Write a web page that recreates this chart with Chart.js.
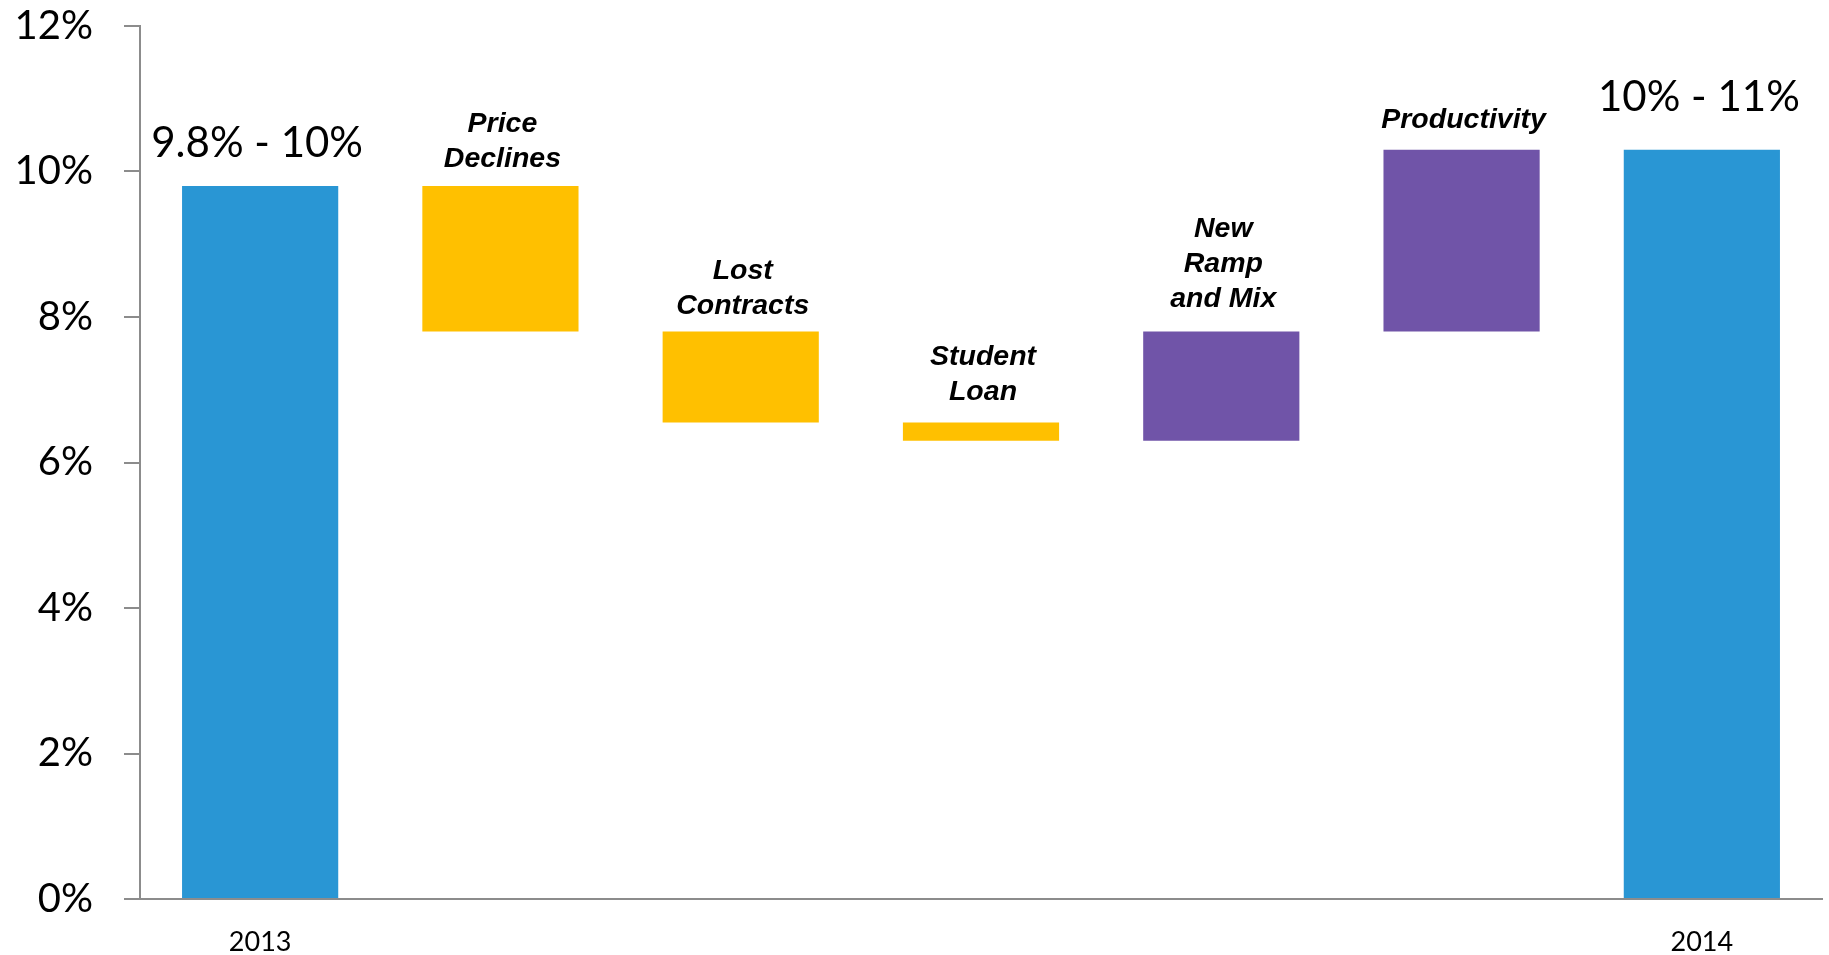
<!DOCTYPE html>
<html>
<head>
<meta charset="utf-8">
<script src="https://cdn.jsdelivr.net/npm/chart.js@4/dist/chart.umd.min.js"></script>
<style>
  html, body { margin: 0; padding: 0; background: #ffffff; }
  #wrap { width: 1829px; height: 955px; }
</style>
</head>
<body>
<div id="wrap"><canvas id="c" width="1829" height="955"></canvas></div>
<script>
// ---- data ----
const categories = ['2013', 'Price Declines', 'Lost Contracts', 'Student Loan', 'New Ramp and Mix', 'Productivity', '2014'];
const tickLabels = ['2013', '', '', '', '', '', '2014'];
const barStart = [0, 7.8, 6.55, 6.3, 6.3, 7.8, 0];
const barEnd = [9.8, 9.8, 7.8, 6.55, 7.8, 10.3, 10.3];
const barLabels = [
  ['9.8% - 10%'],
  ['Price', 'Declines'],
  ['Lost', 'Contracts'],
  ['Student', 'Loan'],
  ['New', 'Ramp', 'and Mix'],
  ['Productivity'],
  ['10% - 11%']
];
const barKinds = ['total', 'down', 'down', 'down', 'up', 'up', 'total'];
const yTicks = [0, 2, 4, 6, 8, 10, 12];

// ---- styles ----
const kindColors = { total: '#2996D4', down: '#FFC000', up: '#7054A8' };
const labelGaps = [29, 19, 18, 22, 25, 22, 39];

const labelPlugin = {
  id: 'barLabels',
  afterDatasetsDraw(chart) {
    const ctx = chart.ctx;
    const meta = chart.getDatasetMeta(0);
    meta.data.forEach((el, i) => {
      const top = Math.min(el.y, el.base);
      const lines = barLabels[i];
      const isTotal = barKinds[i] === 'total';
      ctx.save();
      ctx.fillStyle = '#000000';
      ctx.textAlign = 'center';
      ctx.textBaseline = 'alphabetic';
      let lh;
      if (isTotal) {
        ctx.font = '42px Lato';
        lh = 50;
      } else {
        ctx.font = 'italic bold 28.5px "Liberation Sans", Arial, sans-serif';
        lh = 35;
      }
      const baseY = top - labelGaps[i];
      for (let k = lines.length - 1; k >= 0; k--) {
        const y = baseY - (lines.length - 1 - k) * lh;
        ctx.fillText(lines[k], el.x + (isTotal ? -3 : 2), y);
      }
      ctx.restore();
    });
  }
};

const chart = new Chart(document.getElementById('c'), {
  type: 'bar',
  data: {
    labels: categories,
    datasets: [{
      data: categories.map((c, i) => [barStart[i], barEnd[i]]),
      backgroundColor: barKinds.map(k => kindColors[k]),
      borderWidth: 0,
      barPercentage: 1,
      categoryPercentage: 0.65
    }]
  },
  options: {
    responsive: false,
    animation: false,
    layout: { padding: { top: 26, right: 7, left: 0, bottom: 0 } },
    plugins: {
      legend: { display: false },
      tooltip: { enabled: false }
    },
    scales: {
      x: {
        grid: { display: false, drawTicks: false },
        border: { display: true, color: '#8c8c8c', width: 2 },
        ticks: {
          padding: 27,
          color: '#000000',
          font: { family: 'Lato', size: 27 },
          maxRotation: 0,
          autoSkip: false,
          callback: (v, i) => tickLabels[i]
        },
        afterFit: s => { s.height = 56; s.paddingLeft = 0; s.paddingRight = 0; }
      },
      y: {
        min: yTicks[0],
        max: yTicks[yTicks.length - 1],
        afterBuildTicks: s => { s.ticks = yTicks.map(v => ({ value: v })); },
        grid: { drawOnChartArea: false, drawTicks: true, tickLength: 16, color: '#8c8c8c', lineWidth: 2 },
        border: { display: true, color: '#8c8c8c', width: 2 },
        ticks: {
          padding: 31,
          color: '#000000',
          font: { family: 'Lato', size: 40 },
          callback: v => v + '%'
        },
        afterFit: s => { s.width = 140; s.paddingTop = 0; s.paddingBottom = 0; }
      }
    }
  },
  plugins: [labelPlugin]
});
</script>
</body>
</html>
